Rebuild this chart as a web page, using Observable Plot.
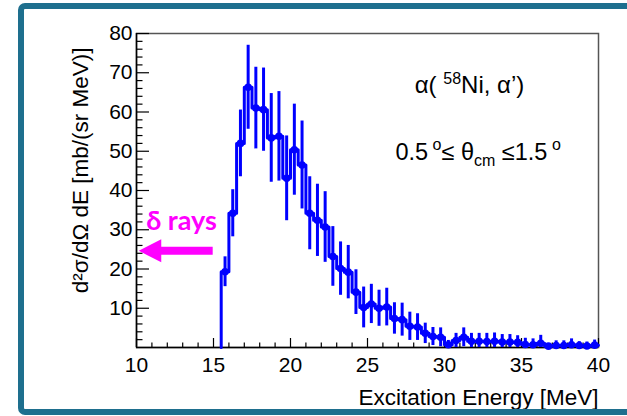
<!DOCTYPE html>
<html><head><meta charset="utf-8">
<script src="https://cdn.jsdelivr.net/npm/d3@7"></script>
<script src="https://cdn.jsdelivr.net/npm/@observablehq/plot@0.6"></script>
<style>
html,body{margin:0;padding:0;background:#fff;}
#wrap{position:relative;width:627px;height:416px;overflow:hidden;background:#fff;}
#wrap svg{position:absolute;left:0;top:0;}
#border{position:absolute;left:18px;top:3px;width:660px;height:412px;border:6px solid #1e6f8e;border-radius:7px;box-sizing:border-box;pointer-events:none;}
</style></head>
<body><div id="wrap"><div id="border"></div></div>
<script>
// ---- data ----
const binLow = 15.5;
const binWidth = 0.5;
const values = [19.3, 34.2, 52.0, 66.3, 61.0, 60.6, 53.4, 53.8, 43.1, 50.4, 46.5, 34.2, 32.4, 30.7, 23.2, 20.1, 19.2, 14.1, 10.2, 11.1, 10.0, 10.3, 7.4, 7.1, 5.4, 5.2, 3.6, 2.8, 2.6, 0.7, 1.8, 2.6, 1.6, 1.6, 1.5, 1.6, 1.4, 1.4, 1.3, 0.75, 0.7, 1.1, 0.35, 0.5, 0.5, 0.7, 0.5, 0.4, 0.6];
const errors = [3.8, 6, 8.5, 10.7, 10.4, 10.6, 11.3, 11.4, 10.8, 11.6, 11.2, 9.3, 9.2, 9, 7.6, 6.8, 6.8, 5.7, 5.2, 5, 4.6, 4.8, 4, 4.2, 3.6, 3.4, 2.6, 2.3, 2.4, 1.1, 1.8, 2.4, 2, 2, 2.1, 2.1, 1.9, 1.9, 1.7, 1.6, 1.5, 2, 0.6, 1.2, 1.2, 1.5, 1, 1, 1.3];
const xTicks = [10, 15, 20, 25, 30, 35, 40];
const yTicks = [10, 20, 30, 40, 50, 60, 70, 80];
const xMinorTicks = [11, 12, 13, 14, 16, 17, 18, 19, 21, 22, 23, 24, 26, 27, 28, 29, 31, 32, 33, 34, 36, 37, 38, 39];
const yMinorTicks = [2, 4, 6, 8, 12, 14, 16, 18, 22, 24, 26, 28, 32, 34, 36, 38, 42, 44, 46, 48, 52, 54, 56, 58, 62, 64, 66, 68, 72, 74, 76, 78];
const xTitle = "Excitation Energy [MeV]";
const yTitle = "d²σ/dΩ dE [mb/(sr MeV)]";
const deltaLabel = "δ rays";

// ---- derived tables ----
const bins = values.map((v, i) => ({
  x: binLow + binWidth * (i + 0.5),
  lo: binLow + binWidth * i,
  v,
  e: errors[i]
}));
const stepPts = [{x: binLow, y: 0}, ...bins.map(b => ({x: b.lo, y: b.v})),
  {x: binLow + binWidth * values.length, y: values[values.length - 1]}];

const W = 627, H = 416;
const mL = 136, mR = 29, mT = 33, mB = 69;
const pw = W - mL - mR, ph = H - mT - mB;
const blue = "#0000ff";
const font = "'Liberation Sans', Arial, Helvetica, sans-serif";

const plot = Plot.plot({
  width: W, height: H,
  marginLeft: mL, marginRight: mR, marginTop: mT, marginBottom: mB,
  style: {fontFamily: font, fontSize: "21px", color: "black", background: "transparent", overflow: "visible"},
  x: {domain: [10, 40]},
  y: {domain: [0, 80]},
  marks: [
    Plot.frame({stroke: "#555", strokeWidth: 1.5}),
    Plot.tickY(yTicks, {y: d => d, stroke: "black", strokeWidth: 1.2, insetRight: pw - 13}),
    Plot.tickY(yMinorTicks, {y: d => d, stroke: "black", strokeWidth: 1.2, insetRight: pw - 6.5}),
    Plot.tickX(xTicks, {x: d => d, stroke: "black", strokeWidth: 1.2, insetTop: ph - 9}),
    Plot.tickX(xMinorTicks, {x: d => d, stroke: "black", strokeWidth: 1.2, insetTop: ph - 4.5}),
    Plot.ruleX([10], {stroke: "black", strokeWidth: 1.5}),
    Plot.ruleY([0], {stroke: "black", strokeWidth: 1.5}),
    Plot.axisX({ticks: xTicks, tickSize: 0, tickPadding: 10, fontSize: 21, label: null, tickFormat: d => String(d)}),
    Plot.axisY({ticks: yTicks, tickSize: 0, tickPadding: 4, fontSize: 21, label: null, tickFormat: d => String(d)}),
    Plot.line(stepPts, {x: "x", y: "y", curve: "step-after", stroke: blue, strokeWidth: 3}),
    Plot.ruleX(bins, {x: "x", y1: d => Math.max(0, d.v - d.e), y2: d => d.v + d.e, stroke: blue, strokeWidth: 3}),
    Plot.dot(bins, {x: "x", y: "v", r: 3.8, fill: blue, stroke: "none"}),
    Plot.text([yTitle], {text: d => d, frameAnchor: "top-left", dx: -56, dy: 14, rotate: -90, fontSize: 22.5, textAnchor: "end", lineAnchor: "middle"}),
    Plot.text([xTitle], {text: d => d, frameAnchor: "bottom-right", dy: 50, fontSize: 22.5, textAnchor: "end", lineAnchor: "middle"})
  ]
});
document.getElementById("wrap").insertBefore(plot, document.getElementById("border"));

// ---- annotations placed through the scales ----
const sx = plot.scale("x"), sy = plot.scale("y");
const svg = d3.select(plot);
const g = svg.append("g").attr("font-family", font).attr("fill", "black").attr("text-anchor", "start");

// reaction label
const t1 = g.append("text").attr("x", sx.apply(28.1)).attr("y", sy.apply(64.6)).attr("font-size", 24);
t1.append("tspan").text("α( ");
t1.append("tspan").attr("font-size", 16).attr("dy", -9).text("58");
t1.append("tspan").attr("dy", 9).text("Ni, α’)");

// angle range label
const t2 = g.append("text").attr("x", sx.apply(26.85)).attr("y", sy.apply(47.6)).attr("font-size", 23.5);
t2.append("tspan").text("0.5");
t2.append("tspan").attr("font-size", 16).attr("dy", -10).text(" o");
t2.append("tspan").attr("dy", 10).text("≤ θ");
t2.append("tspan").attr("font-size", 16).attr("dy", 6).text("cm");
t2.append("tspan").attr("dy", -6).text(" ≤1.5");
t2.append("tspan").attr("font-size", 16).attr("dy", -10).text(" o");

// delta rays label and arrow
const magenta = "#ff00ff";
g.append("text").attr("x", sx.apply(10.66)).attr("y", sy.apply(29.8))
  .attr("font-family", "Lato, 'Open Sans', sans-serif").attr("font-weight", 700)
  .attr("font-size", 27).attr("fill", magenta).text(deltaLabel);
const tipX = sx.apply(10.18), baseX = sx.apply(11.64), tailX = sx.apply(14.98), ay = sy.apply(24.5);
const hh = 11.5, sh = 4;
g.append("path").attr("fill", magenta).attr("d",
  `M${tipX},${ay} L${baseX},${ay - hh} L${baseX},${ay - sh} L${tailX},${ay - sh} L${tailX},${ay + sh} L${baseX},${ay + sh} L${baseX},${ay + hh} Z`);
</script>
</body></html>
